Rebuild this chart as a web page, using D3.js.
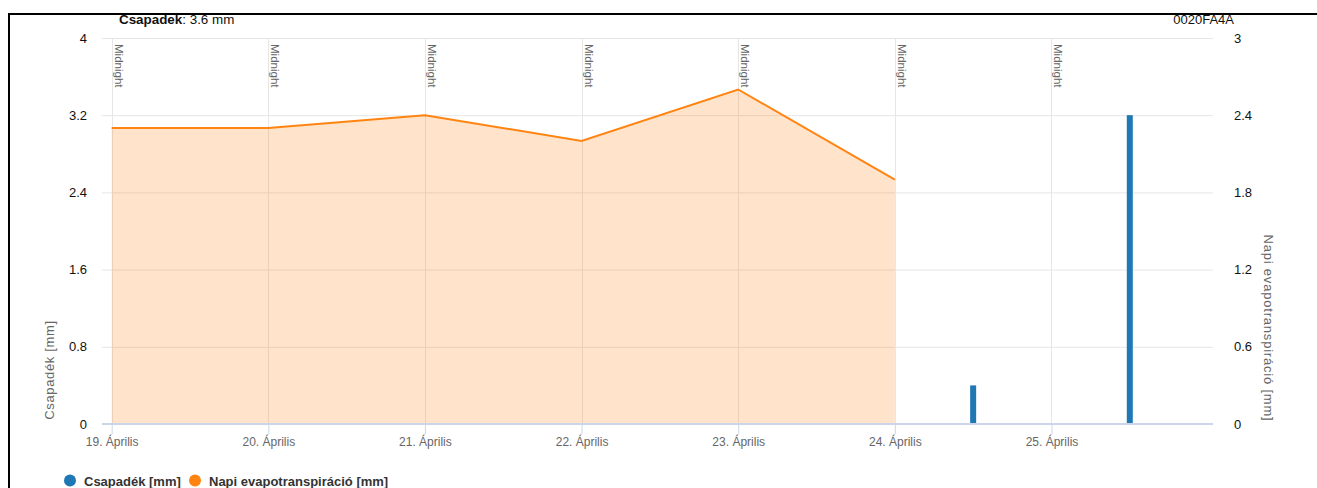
<!DOCTYPE html>
<html>
<head>
<meta charset="utf-8">
<script src="https://cdn.jsdelivr.net/npm/d3@7"></script>
<style>
  body { margin: 0; background: #fff; font-family: "Liberation Sans", Arial, sans-serif; }
  svg text { font-family: "Liberation Sans", Arial, sans-serif; }
</style>
</head>
<body>
<script>
// daily evapotranspiration (right axis), one point per midnight
const etDays = ['2024-04-19', '2024-04-20', '2024-04-21', '2024-04-22', '2024-04-23', '2024-04-24'];
const etValues = [2.3, 2.3, 2.4, 2.2, 2.6, 1.9];

// precipitation bars (left axis)
const rainTimes = ['2024-04-24T12:00', '2024-04-25T12:00'];
const rainValues = [0.4, 3.2];

const midnightDays = ['2024-04-19', '2024-04-20', '2024-04-21', '2024-04-22', '2024-04-23', '2024-04-24', '2024-04-25'];
const xTickLabels = ['19. Április', '20. Április', '21. Április', '22. Április', '23. Április', '24. Április', '25. Április'];
const leftTicks = [0, 0.8, 1.6, 2.4, 3.2, 4];
const rightTicks = [0, 0.6, 1.2, 1.8, 2.4, 3];

const parse = s => new Date(s.length > 10 ? s : s + 'T00:00');

const render = () => {
  const width = 1317;
  const height = 488;
  const plot = { left: 102, right: 1213, top: 38, bottom: 424 };

  const svg = d3.select('body').append('svg')
    .attr('width', width)
    .attr('height', height);

  // frame lines
  svg.append('line').attr('x1', 9).attr('x2', width).attr('y1', 14).attr('y2', 14)
    .attr('stroke', '#000').attr('stroke-width', 2);
  svg.append('line').attr('x1', 9).attr('x2', 9).attr('y1', 13).attr('y2', height)
    .attr('stroke', '#000').attr('stroke-width', 2);

  const xScale = d3.scaleTime()
    .domain([new Date('2024-04-18T22:31'), new Date('2024-04-26T00:45')])
    .range([plot.left, plot.right]);
  const yLeft = d3.scaleLinear().domain([0, 4]).range([plot.bottom, plot.top]);
  const yRight = d3.scaleLinear().domain([0, 3]).range([plot.bottom, plot.top]);

  // horizontal grid
  svg.append('g').selectAll('line').data(leftTicks.slice(1)).enter().append('line')
    .attr('x1', plot.left).attr('x2', plot.right)
    .attr('y1', d => yLeft(d) + 0.5).attr('y2', d => yLeft(d) + 0.5)
    .attr('stroke', '#e6e6e6');

  // midnight grid lines + labels
  const mid = svg.append('g');
  mid.selectAll('line').data(midnightDays).enter().append('line')
    .attr('x1', d => Math.round(xScale(parse(d))) + 0.5)
    .attr('x2', d => Math.round(xScale(parse(d))) + 0.5)
    .attr('y1', plot.top).attr('y2', plot.bottom)
    .attr('stroke', '#e6e6e6');
  mid.selectAll('text').data(midnightDays).enter().append('text')
    .attr('transform', d => `translate(${xScale(parse(d)) + 3}, 44) rotate(90)`)
    .attr('font-size', 11.5)
    .attr('fill', '#666')
    .text('Midnight');

  // evapotranspiration area + line
  const etData = etDays.map((d, i) => [parse(d), etValues[i]]);
  svg.append('path').datum(etData)
    .attr('d', d3.area().x(d => xScale(d[0])).y0(yRight(0)).y1(d => yRight(d[1])))
    .attr('fill', '#ff8411').attr('fill-opacity', 0.22);
  svg.append('path').datum(etData)
    .attr('d', d3.line().x(d => xScale(d[0])).y(d => yRight(d[1])))
    .attr('fill', 'none').attr('stroke', '#ff8411').attr('stroke-width', 2);

  // precipitation bars
  const barW = 6;
  svg.append('g').selectAll('rect').data(rainTimes.map((t, i) => [parse(t), rainValues[i]]))
    .enter().append('rect')
    .attr('x', d => xScale(d[0]) - barW / 2)
    .attr('y', d => yLeft(d[1]))
    .attr('width', barW)
    .attr('height', d => yLeft(0) - yLeft(d[1]))
    .attr('fill', '#1f77b4');

  // x axis
  const xAxisG = svg.append('g')
    .attr('transform', `translate(0, ${plot.bottom})`)
    .call(d3.axisBottom(xScale)
      .tickValues(midnightDays.map(parse))
      .tickFormat((d, i) => xTickLabels[i])
      .tickSize(10).tickSizeOuter(0));
  xAxisG.select('.domain').attr('stroke', '#ccd6eb').attr('stroke-width', 2)
    .attr('d', `M${plot.left},0H${plot.right}`);
  xAxisG.selectAll('.tick line').attr('stroke', '#ccd6eb');
  xAxisG.selectAll('.tick text').attr('fill', '#666').attr('font-size', 12).attr('dy', 0).attr('y', 22);

  // left axis
  const lAxis = svg.append('g')
    .attr('transform', `translate(${plot.left - 15}, 0)`)
    .call(d3.axisLeft(yLeft).tickValues(leftTicks).tickFormat(d3.format('~g')).tickSize(0));
  lAxis.select('.domain').remove();
  lAxis.selectAll('text').attr('fill', '#111').attr('font-size', 13).attr('dy', '0.32em').attr('x', 0);

  // right axis
  const rAxis = svg.append('g')
    .attr('transform', `translate(${plot.right + 21}, 0)`)
    .call(d3.axisRight(yRight).tickValues(rightTicks).tickFormat(d3.format('~g')).tickSize(0));
  rAxis.select('.domain').remove();
  rAxis.selectAll('text').attr('fill', '#111').attr('font-size', 13).attr('dy', '0.32em').attr('x', 0);

  // axis titles
  svg.append('text')
    .attr('transform', 'translate(54, 370) rotate(-90)')
    .attr('text-anchor', 'middle').attr('font-size', 13).attr('fill', '#666')
    .attr('letter-spacing', 0.65)
    .text('Csapadék [mm]');
  svg.append('text')
    .attr('transform', 'translate(1264, 328) rotate(90)')
    .attr('text-anchor', 'middle').attr('font-size', 13).attr('fill', '#666')
    .attr('letter-spacing', 0.8)
    .text('Napi evapotranspiráció [mm]');

  // header texts
  const head = svg.append('text').attr('x', 119).attr('y', 24).attr('font-size', 13.4).attr('fill', '#111');
  head.append('tspan').attr('font-weight', 'bold').text('Csapadek');
  head.append('tspan').text(': 3.6 mm');
  svg.append('text').attr('x', 1234).attr('y', 24).attr('text-anchor', 'end')
    .attr('font-size', 13).attr('fill', '#111').text('0020FA4A');

  // legend
  const legend = [
    { name: 'Csapadék [mm]', color: '#1f77b4', x: 70 },
    { name: 'Napi evapotranspiráció [mm]', color: '#ff8411', x: 195 }
  ];
  const lg = svg.append('g').selectAll('g').data(legend).enter().append('g');
  lg.append('circle').attr('cx', d => d.x).attr('cy', 480.5).attr('r', 6).attr('fill', d => d.color);
  lg.append('text').attr('x', d => d.x + 14).attr('y', 485.5)
    .attr('font-size', 13).attr('font-weight', 'bold').attr('fill', '#333')
    .text(d => d.name);
};

render();
</script>
</body>
</html>
